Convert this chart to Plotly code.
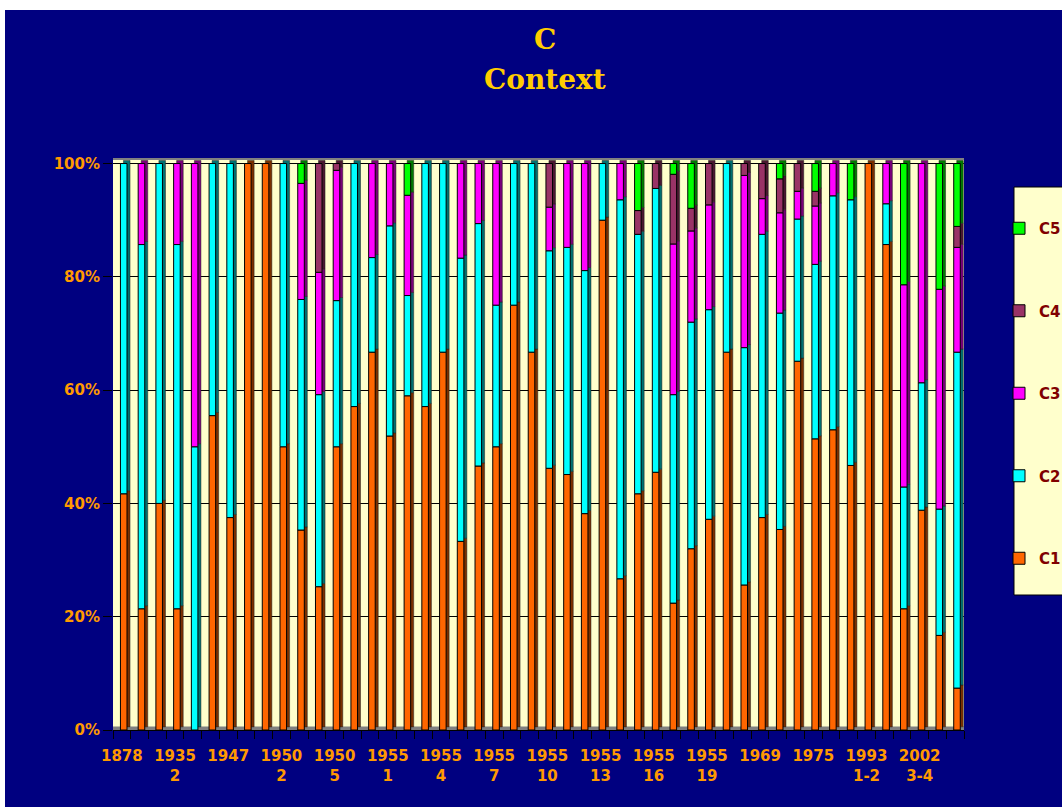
import numpy as np
import plotly.graph_objects as go

# ---------------- data (percent of each bar) ----------------
tick_labels = ["1878", "1935<br>2", "1947", "1950<br>2", "1950<br>5", "1955<br>1",
               "1955<br>4", "1955<br>7", "1955<br>10", "1955<br>13", "1955<br>16",
               "1955<br>19", "1969", "1975", "1993<br>1-2", "2002<br>3-4"]
n_bars = 48
series_names = ["C1", "C2", "C3", "C4", "C5"]

c1 = [41.7, 21.4, 40.0, 21.4, 0, 55.5, 37.5, 100, 100, 50.0, 35.3, 25.3,
      50.0, 57.1, 66.7, 51.9, 59.0, 57.1, 66.7, 33.3, 46.6, 50.0, 75.0, 66.7,
      46.2, 45.1, 38.2, 90.0, 26.7, 41.7, 45.5, 22.4, 32.0, 37.2, 66.7, 25.6,
      37.5, 35.4, 65.1, 51.4, 53.0, 46.7, 100, 85.7, 21.4, 38.8, 16.7, 7.4]
c2 = [58.3, 64.3, 60.0, 64.3, 50.0, 44.5, 62.5, 0, 0, 50.0, 40.7, 33.9,
      25.8, 42.9, 16.7, 37.1, 17.7, 42.9, 33.3, 50.0, 42.8, 25.0, 25.0, 33.3,
      38.4, 40.1, 42.9, 10.0, 66.9, 45.8, 50.1, 36.8, 40.0, 37.0, 33.3, 41.9,
      50.0, 38.2, 25.1, 30.8, 41.3, 46.9, 0, 7.2, 21.5, 22.5, 22.3, 59.3]
c3 = [0, 14.3, 0, 14.3, 50.0, 0, 0, 0, 0, 0, 20.5, 21.6,
      23.0, 0, 16.6, 11.0, 17.7, 0, 0, 16.7, 10.6, 25.0, 0, 0,
      7.7, 14.8, 18.9, 0, 6.4, 0, 0, 26.6, 16.1, 18.5, 0, 30.4,
      6.3, 17.7, 4.9, 10.3, 5.7, 0, 0, 7.1, 35.7, 38.7, 38.8, 18.5]
c4 = [0, 0, 0, 0, 0, 0, 0, 0, 0, 0, 0, 19.2,
      1.2, 0, 0, 0, 0, 0, 0, 0, 0, 0, 0, 0,
      7.7, 0, 0, 0, 0, 4.2, 4.4, 12.3, 4.0, 7.3, 0, 2.1,
      6.2, 6.0, 4.9, 2.6, 0, 0, 0, 0, 0, 0, 0, 3.7]
c5 = [0, 0, 0, 0, 0, 0, 0, 0, 0, 0, 3.5, 0,
      0, 0, 0, 0, 5.6, 0, 0, 0, 0, 0, 0, 0,
      0, 0, 0, 0, 0, 8.3, 0, 1.9, 7.9, 0, 0, 0,
      0, 2.7, 0, 4.9, 0, 6.4, 0, 0, 21.4, 0, 22.2, 11.1]

# ---------------- styling ----------------
face_colors = ["#FF6600", "#00FFFF", "#FF00FF", "#993366", "#00FF00"]
side_colors = ["#7A3000", "#007070", "#7A007A", "#4A1830", "#007A00"]
NAVY = "#000080"
WALL = "#FFFFCC"
ORANGE = "#FF9900"

W, H = 1062, 807
PL, PR, PT, PB = 113, 964, 159, 730          # plot area in page pixels
ML, MR, MT, MB = PL, W - PR, PT, H - PB
plot_w = W - ML - MR
plot_h = H - MT - MB


def xp(px):  # page pixel -> paper x
    return (px - PL) / plot_w


def yp(py):  # page pixel -> paper y
    return (PB - py) / plot_h


series = [np.array(s, dtype=float) for s in (c1, c2, c3, c4, c5)]
bases = np.cumsum([np.zeros(n_bars)] + series[:-1], axis=0)
xs = np.arange(n_bars)

front_off, bar_w = -0.08, 0.37
depth_x, depth_y = 0.17, 0.55

fig = go.Figure()

# 3D side / top faces (drawn first, behind the fronts)
for i, (name, vals, base, col) in enumerate(zip(series_names, series, bases, side_colors)):
    y = [v if v > 0 else None for v in vals]
    fig.add_trace(go.Bar(
        x=xs, y=y, base=base + depth_y, name=name, legendgroup=name,
        legendrank=10 - i, showlegend=False,
        offset=front_off + depth_x, width=bar_w,
        marker=dict(color=col, line=dict(color="#202020", width=0.5)),
        hoverinfo="skip"))

# front faces
for i, (name, vals, base, col) in enumerate(zip(series_names, series, bases, face_colors)):
    y = [v if v > 0 else None for v in vals]
    fig.add_trace(go.Bar(
        x=xs, y=y, base=base, name=name, legendgroup=name,
        legendrank=10 - i,
        offset=front_off, width=bar_w,
        marker=dict(color=col, line=dict(color="#000000", width=1))))

# floor strip
fig.add_shape(type="rect", xref="paper", yref="y", x0=0, x1=1, y0=0, y1=0.6,
              fillcolor="#808080", line=dict(width=0), layer="below")
# top edge of back wall
fig.add_shape(type="line", xref="paper", yref="paper", x0=0, x1=1, y0=1, y1=1,
              line=dict(color="#808080", width=2))
# white page edges (top and left)
fig.add_shape(type="rect", xref="paper", yref="paper", x0=xp(0), x1=xp(W),
              y0=yp(10), y1=yp(0), fillcolor="white", line=dict(width=0))
fig.add_shape(type="rect", xref="paper", yref="paper", x0=xp(0), x1=xp(5),
              y0=yp(H), y1=yp(0), fillcolor="white", line=dict(width=0))
# legend box
fig.add_shape(type="rect", xref="paper", yref="paper", x0=xp(1014), x1=xp(1070),
              y0=yp(595), y1=yp(187), fillcolor=WALL,
              line=dict(color="#000000", width=1))

# titles
title_font = dict(family="DejaVu Serif", size=28, color="#FFCC00", weight="bold")
fig.add_annotation(text="C", xref="paper", yref="paper", x=xp(545), y=yp(40),
                   showarrow=False, font=title_font, yanchor="middle")
fig.add_annotation(text="Context", xref="paper", yref="paper", x=xp(545), y=yp(80),
                   showarrow=False, font=title_font, yanchor="middle")

fig.update_layout(
    width=W, height=H,
    margin=dict(l=ML, r=MR, t=MT, b=MB, autoexpand=False),
    paper_bgcolor=NAVY, plot_bgcolor=WALL,
    barmode="overlay",
    showlegend=True,
    legend=dict(
        x=xp(999), y=yp(212), xanchor="left", yanchor="top",
        bgcolor="rgba(0,0,0,0)", borderwidth=0,
        traceorder="grouped", tracegroupgap=60,
        font=dict(family="DejaVu Sans", size=15, color="#800000", weight="bold"),
        itemclick=False),
    xaxis=dict(
        range=[-0.5, n_bars - 0.5],
        tickmode="array", tickvals=list(range(0, n_bars, 3)), ticktext=tick_labels,
        ticks="", showgrid=False, zeroline=False,
        showline=True, linecolor="#000000", linewidth=1,
        tickfont=dict(family="DejaVu Sans", size=15, color=ORANGE, weight="bold"),
        ticklabelstandoff=12,
        minor=dict(ticks="outside", ticklen=8, tickcolor="#000000",
                   tick0=-0.5, dtick=1, showgrid=False)),
    yaxis=dict(
        range=[0, 100.8],
        tickmode="array", tickvals=[0, 20, 40, 60, 80, 100],
        ticktext=["0%", "20%", "40%", "60%", "80%", "100%"],
        ticks="outside", ticklen=9, tickcolor="#000000",
        showgrid=True, gridcolor="#000000", gridwidth=1,
        zeroline=False, showline=False,
        tickfont=dict(family="DejaVu Sans", size=15, color=ORANGE, weight="bold")),
)

# remove the default 8px page margin so the 1062x807 figure fills the window
fig.write_html("out.html", config={"displayModeBar": False},
               post_script="document.body.style.margin='0';")
